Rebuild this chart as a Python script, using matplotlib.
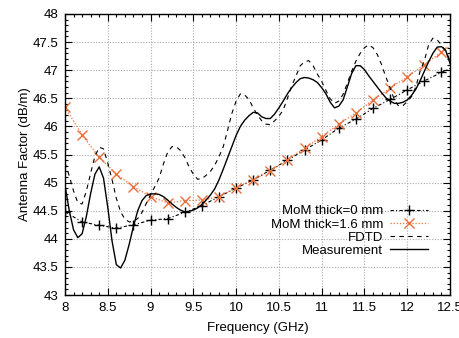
import numpy as np
import matplotlib
matplotlib.use('Agg')
import matplotlib.pyplot as plt
from matplotlib.ticker import MultipleLocator

plt.rcParams['font.family'] = ['Liberation Sans', 'DejaVu Sans']
plt.rcParams['font.size'] = 9.5

# frequency grid of the traced curves (GHz)
freq = np.linspace(8.0, 12.5, 91)

meas = [44.95, 44.50, 44.16, 44.02, 44.09, 44.40, 44.81, 45.15, 45.28, 45.08,
        44.56, 43.96, 43.54, 43.48, 43.62, 43.90, 44.22, 44.50, 44.68, 44.77,
        44.80, 44.80, 44.79, 44.75, 44.69, 44.62, 44.56, 44.51, 44.48, 44.49,
        44.51, 44.55, 44.61, 44.69, 44.78, 44.89, 45.05, 45.24, 45.44, 45.64,
        45.84, 46.00, 46.11, 46.19, 46.25, 46.24, 46.17, 46.14, 46.14, 46.22,
        46.33, 46.45, 46.58, 46.69, 46.78, 46.85, 46.87, 46.86, 46.83, 46.78,
        46.69, 46.58, 46.43, 46.33, 46.36, 46.47, 46.70, 46.94, 47.08, 47.08,
        47.01, 46.90, 46.80, 46.70, 46.60, 46.51, 46.45, 46.41, 46.41, 46.43,
        46.47, 46.55, 46.66, 46.81, 46.98, 47.15, 47.30, 47.41, 47.42, 47.35,
        47.12]

# FDTD simulation
fdtd = [45.35, 45.12, 44.85, 44.64, 44.62, 44.85, 45.17, 45.47, 45.63, 45.60,
        45.35, 45.05, 44.72, 44.48, 44.35, 44.30, 44.31, 44.36, 44.47, 44.63,
        44.78, 44.93, 45.08, 45.33, 45.54, 45.64, 45.64, 45.57, 45.45, 45.28,
        45.15, 45.06, 45.07, 45.13, 45.20, 45.31, 45.46, 45.64, 45.93, 46.23,
        46.45, 46.58, 46.56, 46.48, 46.33, 46.20, 46.10, 46.04, 46.03, 46.10,
        46.18, 46.29, 46.50, 46.72, 46.90, 47.08, 47.15, 47.17, 47.08, 46.93,
        46.80, 46.64, 46.49, 46.41, 46.45, 46.57, 46.77, 46.98, 47.16, 47.30,
        47.40, 47.45, 47.40, 47.28, 47.10, 46.88, 46.69, 46.47, 46.36, 46.37,
        46.44, 46.53, 46.70, 46.98, 47.17, 47.45, 47.57, 47.54, 47.45, 47.34,
        47.18]

# MoM results (every 0.2 GHz, plus end point)
freq_mom = [8.0, 8.2, 8.4, 8.6, 8.8, 9.0, 9.2, 9.4, 9.6, 9.8, 10.0, 10.2,
            10.4, 10.6, 10.8, 11.0, 11.2, 11.4, 11.6, 11.8, 12.0, 12.2, 12.4, 12.5]
mom0 = [44.48, 44.30, 44.24, 44.19, 44.25, 44.33, 44.36, 44.47, 44.59, 44.75,
        44.90, 45.05, 45.22, 45.40, 45.58, 45.76, 45.97, 46.13, 46.32, 46.48,
        46.65, 46.81, 46.96, 47.03]
mom16 = [46.34, 45.85, 45.45, 45.15, 44.93, 44.75, 44.64, 44.68, 44.69, 44.75,
         44.91, 45.05, 45.21, 45.41, 45.61, 45.82, 46.04, 46.24, 46.47, 46.68,
         46.88, 47.10, 47.32, 47.43]

orange = '#e8713c'

fig = plt.figure(figsize=(4.6, 3.38), dpi=100)
ax = fig.add_axes([65/460, 1-295/338, 385/460, 281/338])

marks = list(range(len(freq_mom)-1))
ax.plot(freq_mom, mom0, color='black', lw=0.8, ls=(0, (3, 2, 1, 2)),
        marker='+', ms=7, mew=1.0, markevery=marks, label='MoM thick=0 mm')
ax.plot(freq_mom, mom16, color=orange, lw=0.9, ls=(0, (1, 1.5)),
        marker='x', ms=6.5, mew=1.0, markevery=marks, label='MoM thick=1.6 mm')
ax.plot(freq, fdtd, color='black', lw=0.8, ls=(0, (4, 4)), label='FDTD')
ax.plot(freq, meas, color='black', lw=1.0, label='Measurement')

ax.set_xlim(8, 12.5)
ax.set_ylim(43, 48)
ax.xaxis.set_major_locator(MultipleLocator(0.5))
ax.xaxis.set_minor_locator(MultipleLocator(0.1))
ax.yaxis.set_major_locator(MultipleLocator(0.5))
ax.yaxis.set_minor_locator(MultipleLocator(0.1))
ax.xaxis.set_major_formatter(plt.FuncFormatter(lambda v, p: '%g' % v))
ax.yaxis.set_major_formatter(plt.FuncFormatter(lambda v, p: '%g' % v))
ax.tick_params(which='both', direction='in', top=True, right=True, width=0.8)
ax.tick_params(which='major', length=5, pad=5)
ax.tick_params(which='minor', length=2.5)
ax.grid(True, which='major', color='#a8a8a8', ls=(0, (1, 1.5)), lw=0.8)
for s in ax.spines.values():
    s.set_linewidth(1.0)

ax.set_xlabel('Frequency (GHz)', labelpad=6)
ax.set_ylabel('Antenna Factor (dB/m)', labelpad=1)

leg = ax.legend(loc='upper right', bbox_to_anchor=((428-65)/385, (295-205)/281),
                frameon=False, markerfirst=False, borderpad=0, borderaxespad=0,
                handlelength=2.9, handletextpad=0.5, labelspacing=0.08)

fig.savefig('out.png', dpi=100)
